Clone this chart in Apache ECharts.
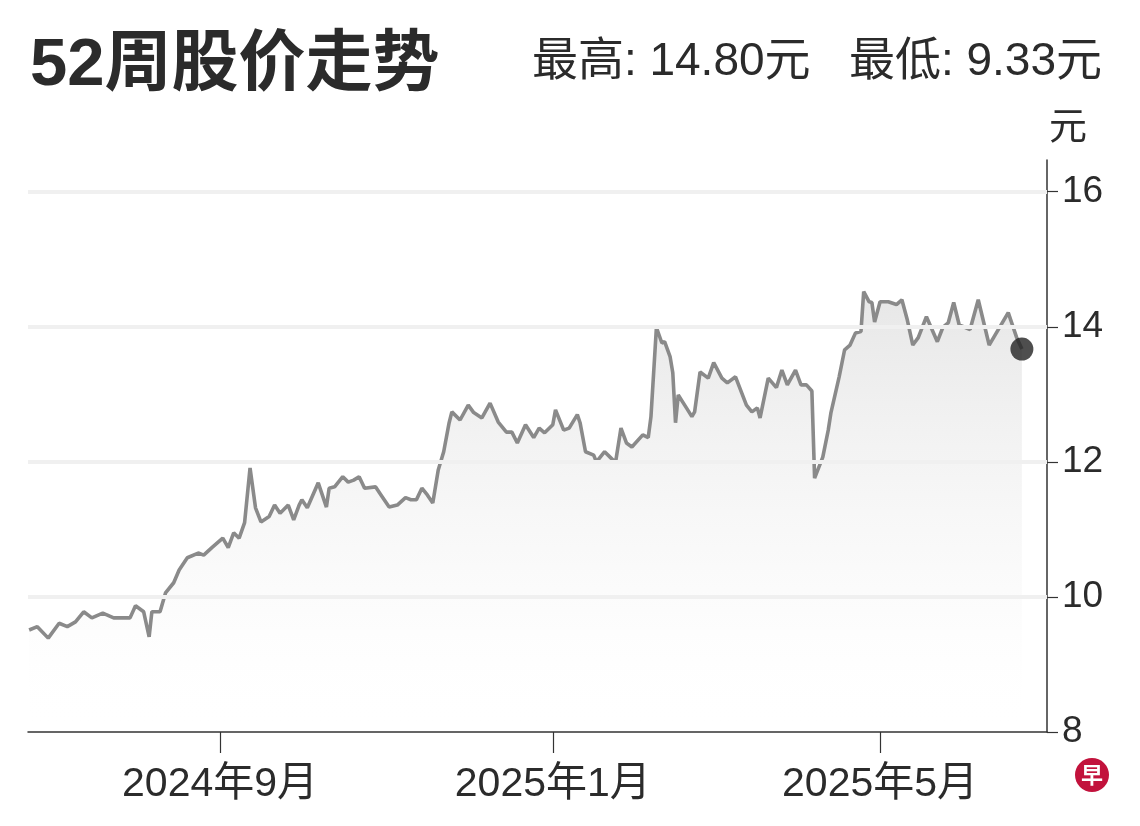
<!DOCTYPE html>
<html>
<head>
<meta charset="utf-8">
<script src="https://cdn.jsdelivr.net/npm/echarts@6/dist/echarts.min.js"></script>
<style>
html,body{margin:0;padding:0;background:#fff;}
#chart{width:1140px;height:826px;}
</style>
</head>
<body>
<div id="chart"></div>
<script>
const titleText = '52周股价走势';
const subText = '最高: 14.80元   最低: 9.33元';
const unitName = '元';

const dates = [
'2024-06-23','2024-06-26','2024-06-30','2024-07-04','2024-07-07','2024-07-10','2024-07-13','2024-07-16','2024-07-20','2024-07-24',
'2024-07-30','2024-08-01','2024-08-04','2024-08-06','2024-08-07','2024-08-10','2024-08-12','2024-08-15','2024-08-17','2024-08-20',
'2024-08-24','2024-08-26','2024-08-29','2024-09-02','2024-09-04','2024-09-06','2024-09-08','2024-09-10','2024-09-12','2024-09-14',
'2024-09-16','2024-09-19','2024-09-21','2024-09-23','2024-09-26','2024-09-28','2024-09-30','2024-10-01','2024-10-03','2024-10-07',
'2024-10-10','2024-10-11','2024-10-13','2024-10-16','2024-10-18','2024-10-20','2024-10-22','2024-10-24','2024-10-28','2024-10-30',
'2024-11-02','2024-11-05','2024-11-08','2024-11-10','2024-11-12','2024-11-14','2024-11-16','2024-11-18','2024-11-20','2024-11-22',
'2024-11-24','2024-11-25','2024-11-28','2024-12-01','2024-12-03','2024-12-06','2024-12-09','2024-12-12','2024-12-15','2024-12-17',
'2024-12-19','2024-12-22','2024-12-25','2024-12-27','2024-12-29','2025-01-01','2025-01-02','2025-01-05','2025-01-07','2025-01-10',
'2025-01-11','2025-01-13','2025-01-16','2025-01-17','2025-01-20','2025-01-22','2025-01-24','2025-01-26','2025-01-28','2025-01-30',
'2025-02-03','2025-02-05','2025-02-06','2025-02-08','2025-02-10','2025-02-11','2025-02-13','2025-02-14','2025-02-15','2025-02-16',
'2025-02-19','2025-02-21','2025-02-22','2025-02-24','2025-02-27','2025-03-01','2025-03-04','2025-03-06','2025-03-09','2025-03-13',
'2025-03-15','2025-03-17','2025-03-18','2025-03-21','2025-03-24','2025-03-26','2025-03-28','2025-03-31','2025-04-02','2025-04-04',
'2025-04-06','2025-04-07','2025-04-10','2025-04-12','2025-04-13','2025-04-16','2025-04-18','2025-04-20','2025-04-22','2025-04-24',
'2025-04-25','2025-04-27','2025-04-28','2025-04-29','2025-05-01','2025-05-04','2025-05-07','2025-05-09','2025-05-11','2025-05-13',
'2025-05-15','2025-05-18','2025-05-22','2025-05-24','2025-05-26','2025-05-28','2025-05-30','2025-06-03','2025-06-06','2025-06-10',
'2025-06-17','2025-06-20','2025-06-22'
];
const prices = [
9.51,9.56,9.39,9.61,9.56,9.63,9.78,9.69,9.76,9.69,
9.69,9.87,9.78,9.41,9.78,9.78,10.06,10.21,10.40,10.58,
10.65,10.62,10.73,10.87,10.73,10.95,10.87,11.10,11.91,11.32,
11.11,11.19,11.36,11.24,11.36,11.14,11.36,11.44,11.32,11.69,
11.33,11.61,11.63,11.78,11.70,11.73,11.78,11.61,11.63,11.51,
11.33,11.36,11.47,11.44,11.44,11.61,11.51,11.39,11.88,12.15,
12.58,12.74,12.62,12.84,12.73,12.65,12.87,12.59,12.44,12.44,
12.28,12.55,12.36,12.50,12.43,12.55,12.77,12.47,12.50,12.70,
12.58,12.15,12.10,12.00,12.15,12.07,11.99,12.50,12.28,12.22,
12.40,12.36,12.67,13.99,13.76,13.78,13.56,13.32,12.58,12.99,
12.80,12.67,12.74,13.33,13.24,13.47,13.24,13.17,13.26,12.84,
12.74,12.80,12.65,13.24,13.10,13.36,13.14,13.36,13.14,13.14,
13.05,11.76,12.07,12.47,12.73,13.26,13.66,13.73,13.91,13.93,
14.52,14.37,14.36,14.07,14.37,14.37,14.33,14.40,14.10,13.73,
13.84,14.15,13.78,13.99,14.06,14.36,14.03,13.96,14.40,13.73,
14.21,13.85,13.67
];
const xTickDates = ['2024-09-01','2025-01-01','2025-05-01'];
const xTickLabels = ['2024年9月','2025年1月','2025年5月'];
const yTicks = [8,10,12,14,16];
const gridValues = [10,12,14,16];
const xRange = ['2024-06-22 14:00','2025-07-01 05:00'];

const FONT = '"Liberation Sans", Arial, "Noto Sans CJK SC", sans-serif';
const TEXT = '#2b2b2b';

const toTs = d => +echarts.time.parse(d);
const seriesData = dates.map((d,i)=>[toTs(d), prices[i]]);
const lastPoint = seriesData[seriesData.length-1];
const xTickTs = xTickDates.map(toTs);
const labelMap = {};
xTickTs.forEach((t,i)=>{ labelMap[t] = xTickLabels[i]; });

const chart = echarts.init(document.getElementById('chart'), null, {renderer:'canvas'});
chart.setOption({
  backgroundColor:'#ffffff',
  animation:false,
  title:[
    {text:titleText, left:25, top:28, textStyle:{fontFamily:FONT, fontSize:67, fontWeight:'bold', color:TEXT}},
    {text:subText, right:33, top:34, textStyle:{fontFamily:FONT, fontSize:46, fontWeight:'normal', color:TEXT}}
  ],
  grid:{left:28, right:93, top:160, bottom:94, containLabel:false},
  xAxis:{
    type:'value',
    min:toTs(xRange[0]),
    max:toTs(xRange[1]),
    axisLine:{show:true, onZero:false, lineStyle:{color:'#333', width:1.5}},
    axisTick:{show:true, length:21, customValues:xTickTs, lineStyle:{color:'#333', width:1.2}},
    axisLabel:{show:true, customValues:xTickTs, margin:32, fontFamily:FONT, fontSize:41, color:TEXT,
      formatter:(v)=> labelMap[v] || ''},
    splitLine:{show:false}
  },
  yAxis:{
    type:'value',
    position:'right',
    min:8, max:16.47,
    name:unitName,
    nameLocation:'end',
    nameGap:12,
    nameTextStyle:{fontFamily:FONT, fontSize:38, color:TEXT, align:'left', padding:[0,0,0,2]},
    axisLine:{show:true, lineStyle:{color:'#333', width:1.5}},
    axisTick:{show:true, inside:false, length:11, customValues:yTicks, lineStyle:{color:'#333', width:1.2}},
    axisLabel:{show:true, customValues:yTicks, margin:15, fontFamily:FONT, fontSize:37, color:TEXT},
    splitLine:{show:false}
  },
  series:[
    {
      type:'line',
      data:seriesData,
      showSymbol:false,
      symbol:'none',
      lineStyle:{color:'#8a8a8a', width:3.6},
      areaStyle:{color:new echarts.graphic.LinearGradient(0,0,0,1,[
        {offset:0, color:'rgba(212,212,212,0.8)'},
        {offset:0.7, color:'rgba(245,245,245,0.5)'},
        {offset:1, color:'rgba(255,255,255,0)'}
      ])},
      markLine:{
        silent:true, symbol:'none', label:{show:false},
        lineStyle:{color:'#f0f0f0', width:4, type:'solid'},
        data:gridValues.map(v=>({yAxis:v}))
      },
      z:2
    },
    {
      type:'scatter',
      data:[lastPoint],
      symbol:'circle',
      symbolSize:23,
      itemStyle:{color:'#222222'},
      z:5
    }
  ],
  graphic:[
    {type:'circle', shape:{cx:1092, cy:775, r:17}, style:{fill:'#c2123c'}, z:10},
    {type:'text', x:1092, y:775, style:{text:'早', fill:'#fff', fontSize:22, fontWeight:'bold', fontFamily:'"Noto Sans CJK SC"', align:'center', verticalAlign:'middle'}, z:11}
  ]
});
</script>
</body>
</html>
